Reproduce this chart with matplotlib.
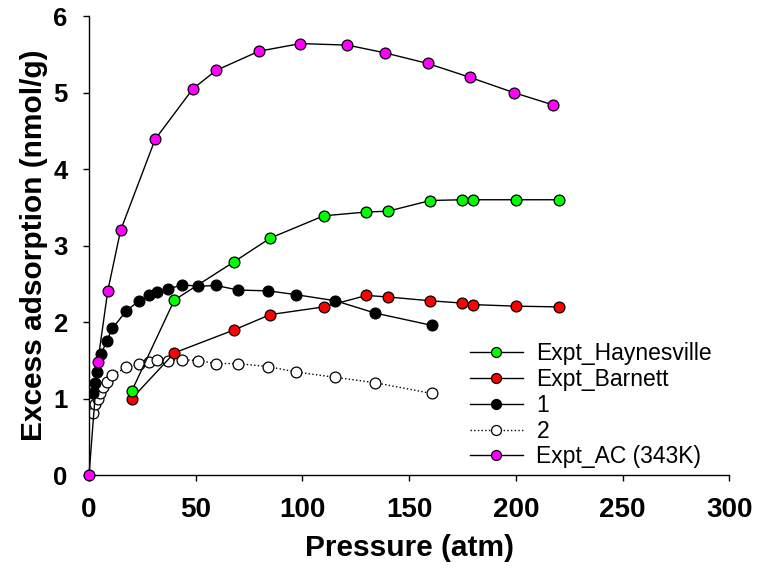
import matplotlib
matplotlib.use("Agg")
import matplotlib.pyplot as plt

plt.rcParams['font.family'] = ['Liberation Sans', 'DejaVu Sans']

# Expt_Haynesville / Expt_Barnett share pressures
p_expt = [20, 40, 68, 85, 110, 130, 140, 160, 175, 180, 200, 220]
y_hay = [1.10, 2.29, 2.79, 3.10, 3.39, 3.44, 3.45, 3.59, 3.60, 3.60, 3.60, 3.60]
y_bar = [1.00, 1.60, 1.90, 2.10, 2.20, 2.35, 2.33, 2.28, 2.25, 2.23, 2.21, 2.20]

# simulated series 1 and 2
p_1 = [2.0, 2.7, 3.6, 5.8, 8.2, 11, 17.5, 23.5, 28, 32, 37, 43.5, 51, 59.5,
       70, 84, 97, 115.5, 134, 160.5]
y_1 = [1.07, 1.20, 1.35, 1.59, 1.75, 1.92, 2.15, 2.28, 2.35, 2.40, 2.43,
       2.49, 2.47, 2.48, 2.42, 2.41, 2.36, 2.28, 2.12, 1.96]
p_2 = [2.0, 2.8, 4.0, 5.2, 6.5, 8.5, 11, 17.5, 23.5, 28, 32, 37, 43.5, 51,
       59.5, 70, 84, 97, 115.5, 134, 160.5]
y_2 = [0.82, 0.93, 1.00, 1.08, 1.15, 1.22, 1.31, 1.41, 1.45, 1.48, 1.51,
       1.50, 1.51, 1.50, 1.46, 1.46, 1.42, 1.35, 1.28, 1.21, 1.07]

# activated carbon at 343K
p_ac = [0, 4.1, 8.8, 14.8, 31.0, 48.7, 59.6, 79.6, 99.0, 121.1, 138.5,
        158.7, 178.4, 199.0, 217.3]
y_ac = [0, 1.48, 2.41, 3.20, 4.39, 5.05, 5.29, 5.54, 5.64, 5.62, 5.52,
        5.38, 5.20, 5.00, 4.84]

fig = plt.figure(figsize=(7.64, 5.72), dpi=100)
ax = fig.add_axes([0.1165, 0.169, 0.838, 0.803])

mk = dict(marker='o', markersize=7.8, markeredgecolor='black',
          markeredgewidth=0.9, color='black', linewidth=1.0)
ax.plot(p_expt, y_hay, markerfacecolor='#00ff00', label='Expt_Haynesville', zorder=4, **mk)
ax.plot(p_expt, y_bar, markerfacecolor='#ff0000', label='Expt_Barnett', zorder=3, **mk)
ax.plot(p_1, y_1, markerfacecolor='black', label='1', zorder=5, **mk)
ax.plot(p_2, y_2, markerfacecolor='white', linestyle=':', label='2', zorder=2, **mk)
ax.plot(p_ac, y_ac, markerfacecolor='#ff00ff', label='Expt_AC (343K)', zorder=6,
        clip_on=False, **mk)

ax.set_xlim(0, 300)
ax.set_ylim(0, 6)
ax.set_xticks(range(0, 301, 50))
ax.set_yticks(range(0, 7))

for s in ['top', 'right']:
    ax.spines[s].set_visible(False)
for s in ['left', 'bottom']:
    ax.spines[s].set_linewidth(1.0)

ax.tick_params(direction='out', length=4.5, width=1.0, pad=11)
for t in ax.get_xticklabels():
    t.set_fontsize(20)
    t.set_fontweight('bold')
for t in ax.get_yticklabels():
    t.set_fontsize(18.5)
    t.set_fontweight('bold')

ax.set_xlabel('Pressure (atm)', fontsize=21.5, fontweight='bold', labelpad=8)
ax.set_ylabel('Excess adsorption (nmol/g)', fontsize=21.5, fontweight='bold', labelpad=4)

ax.legend(loc='lower left', bbox_to_anchor=(0.595, 0.015), frameon=False,
          fontsize=16.5, handlelength=2.3, handletextpad=0.6, labelspacing=0.12,
          borderpad=0, borderaxespad=0, markerscale=0.92)

fig.savefig('out.png', dpi=100)
